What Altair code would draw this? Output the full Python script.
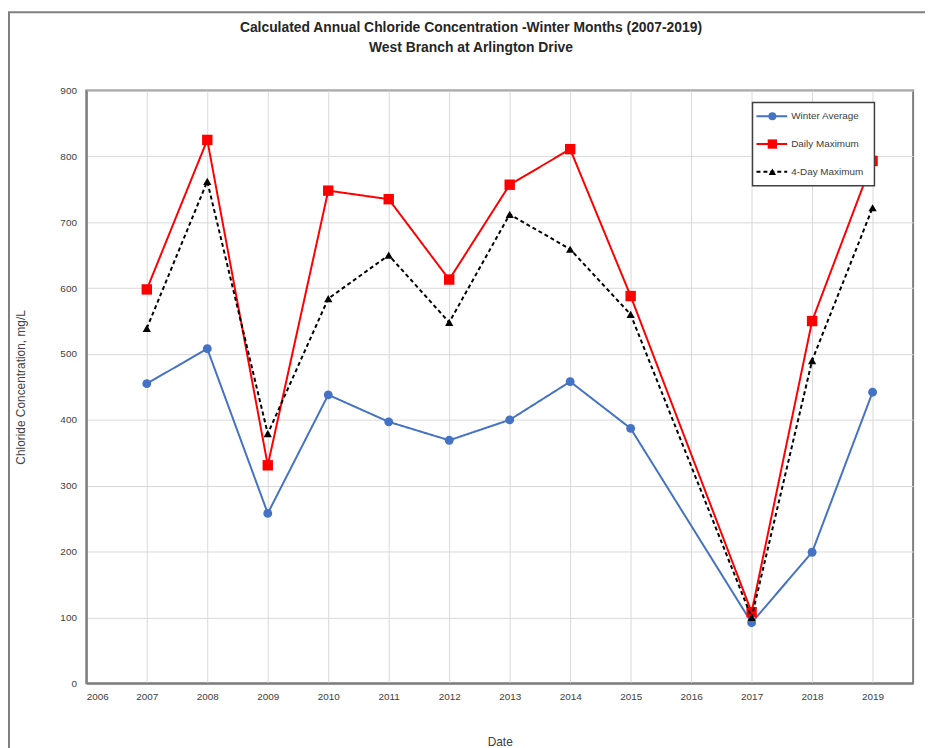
import altair as alt
import pandas as pd

years = [2007, 2008, 2009, 2010, 2011, 2012, 2013, 2014, 2015, 2017, 2018, 2019]
winter_avg = [455, 508, 258, 438, 397, 369, 400, 458, 387, 92, 199, 442]
daily_max = [598, 825, 331, 748, 735, 613, 757, 811, 588, 108, 550, 793]
four_day_max = [539, 762, 379, 584, 650, 548, 712, 659, 560, 100, 490, 722]
series_names = ["Winter Average", "Daily Maximum", "4-Day Maximum"]
series_colors = ["#4472C4", "#FF0000", "#000000"]
series_shapes = ["circle", "square", "triangle-up"]
series_sizes = [80, 110, 70]
series_dash = [[1, 0], [1, 0], [4, 3]]
x_ticks = list(range(2006, 2020))
y_ticks = list(range(0, 1000, 100))
title_lines = ["Calculated Annual Chloride Concentration -Winter Months (2007-2019)",
               "West Branch at Arlington Drive"]

W, H = 834, 598

rows = []
for name, vals in zip(series_names, [winter_avg, daily_max, four_day_max]):
    for yr, v in zip(years, vals):
        rows.append({"Year": yr, "Value": v, "Series": name})
df = pd.DataFrame(rows)

xscale = alt.Scale(domain=[2006, 2019.67], nice=False, zero=False)
yscale = alt.Scale(domain=[0, 900], nice=False)

FONT = "Liberation Sans"

x_axis = alt.Axis(
    values=x_ticks, format="d", title="Date", grid=True, gridColor="#d9d9d9",
    labelFont=FONT, labelFontSize=10, labelColor="#404040", ticks=False,
    labelPadding=8, domainColor="#7f7f7f", domainWidth=2,
    titleFont=FONT, titleFontSize=12, titleFontWeight="normal", titleColor="#404040",
    titlePadding=36,
)
y_axis = alt.Axis(
    values=y_ticks, title="Chloride Concentration, mg/L", grid=True, gridColor="#d9d9d9",
    labelFont=FONT, labelFontSize=10, labelColor="#404040", ticks=False,
    labelPadding=10, domainColor="#7f7f7f", domainWidth=2,
    titleFont=FONT, titleFontSize=12, titleFontWeight="normal", titleColor="#404040",
    titlePadding=33,
)

layers = []

first = True
for name, col, shp, sz, dash in zip(series_names, series_colors, series_shapes, series_sizes, series_dash):
    sub = alt.Chart(df).transform_filter(alt.datum.Series == name)
    if first:
        ex = alt.X("Year:Q", scale=xscale, axis=x_axis)
        ey = alt.Y("Value:Q", scale=yscale, axis=y_axis)
    else:
        ex = alt.X("Year:Q", scale=xscale)
        ey = alt.Y("Value:Q", scale=yscale)
    first = False
    line = sub.mark_line(color=col, strokeWidth=2, strokeDash=dash).encode(x=ex, y=ey)
    pts = sub.mark_point(color=col, filled=True, shape=shp, size=sz, opacity=1).encode(
        x=alt.X("Year:Q", scale=xscale), y=alt.Y("Value:Q", scale=yscale)
    )
    layers += [line, pts]

# outer frame (stroke only)
frame = alt.Chart(alt.Data(values=[{}])).mark_rect(
    fillOpacity=0, stroke="#7f7f7f", strokeWidth=2, clip=False
).encode(x=alt.value(-78), y=alt.value(-79), x2=alt.value(W + 40), y2=alt.value(H + 80))
layers.append(frame)

# title as text
for i, t in enumerate(title_lines):
    layers.append(alt.Chart(alt.Data(values=[{"t": t}])).mark_text(
        align="center", baseline="middle", font=FONT, fontSize=14, fontWeight="bold", color="#262626"
    ).encode(x=alt.value(388), y=alt.value(-63 + 20 * i), text="t:N"))

# legend box
box_x, box_y, box_w, box_h = 672, 12, 123, 84
legend_box = alt.Chart(alt.Data(values=[{}])).mark_rect(
    fill="white", stroke="#404040", strokeWidth=1.5
).encode(x=alt.value(box_x), y=alt.value(box_y), x2=alt.value(box_x + box_w), y2=alt.value(box_y + box_h))
layers.append(legend_box)

for i, (name, col, shp, sz, dash) in enumerate(zip(series_names, series_colors, series_shapes, series_sizes, series_dash)):
    ry = 26 + 28 * i
    one = alt.Data(values=[{"label": name}])
    layers.append(alt.Chart(one).mark_rule(color=col, strokeWidth=2, strokeDash=dash).encode(
        x=alt.value(676), x2=alt.value(707), y=alt.value(ry)))
    layers.append(alt.Chart(one).mark_point(color=col, filled=True, shape=shp, size=sz * 0.8, opacity=1).encode(
        x=alt.value(692), y=alt.value(ry)))
    layers.append(alt.Chart(one).mark_text(align="left", baseline="middle", font=FONT, fontSize=10,
                                           color="#404040").encode(
        x=alt.value(711), y=alt.value(ry), text="label:N"))

chart = alt.layer(*layers).properties(
    width=W, height=H,
    autosize=alt.AutoSizeParams(type="none"),
    padding={"left": 79, "top": 80, "right": 12, "bottom": 62},
).configure(background="white").configure_view(stroke="#7f7f7f", strokeWidth=2)

chart.save("out.html", embed_options={"renderer": "svg", "actions": False})
